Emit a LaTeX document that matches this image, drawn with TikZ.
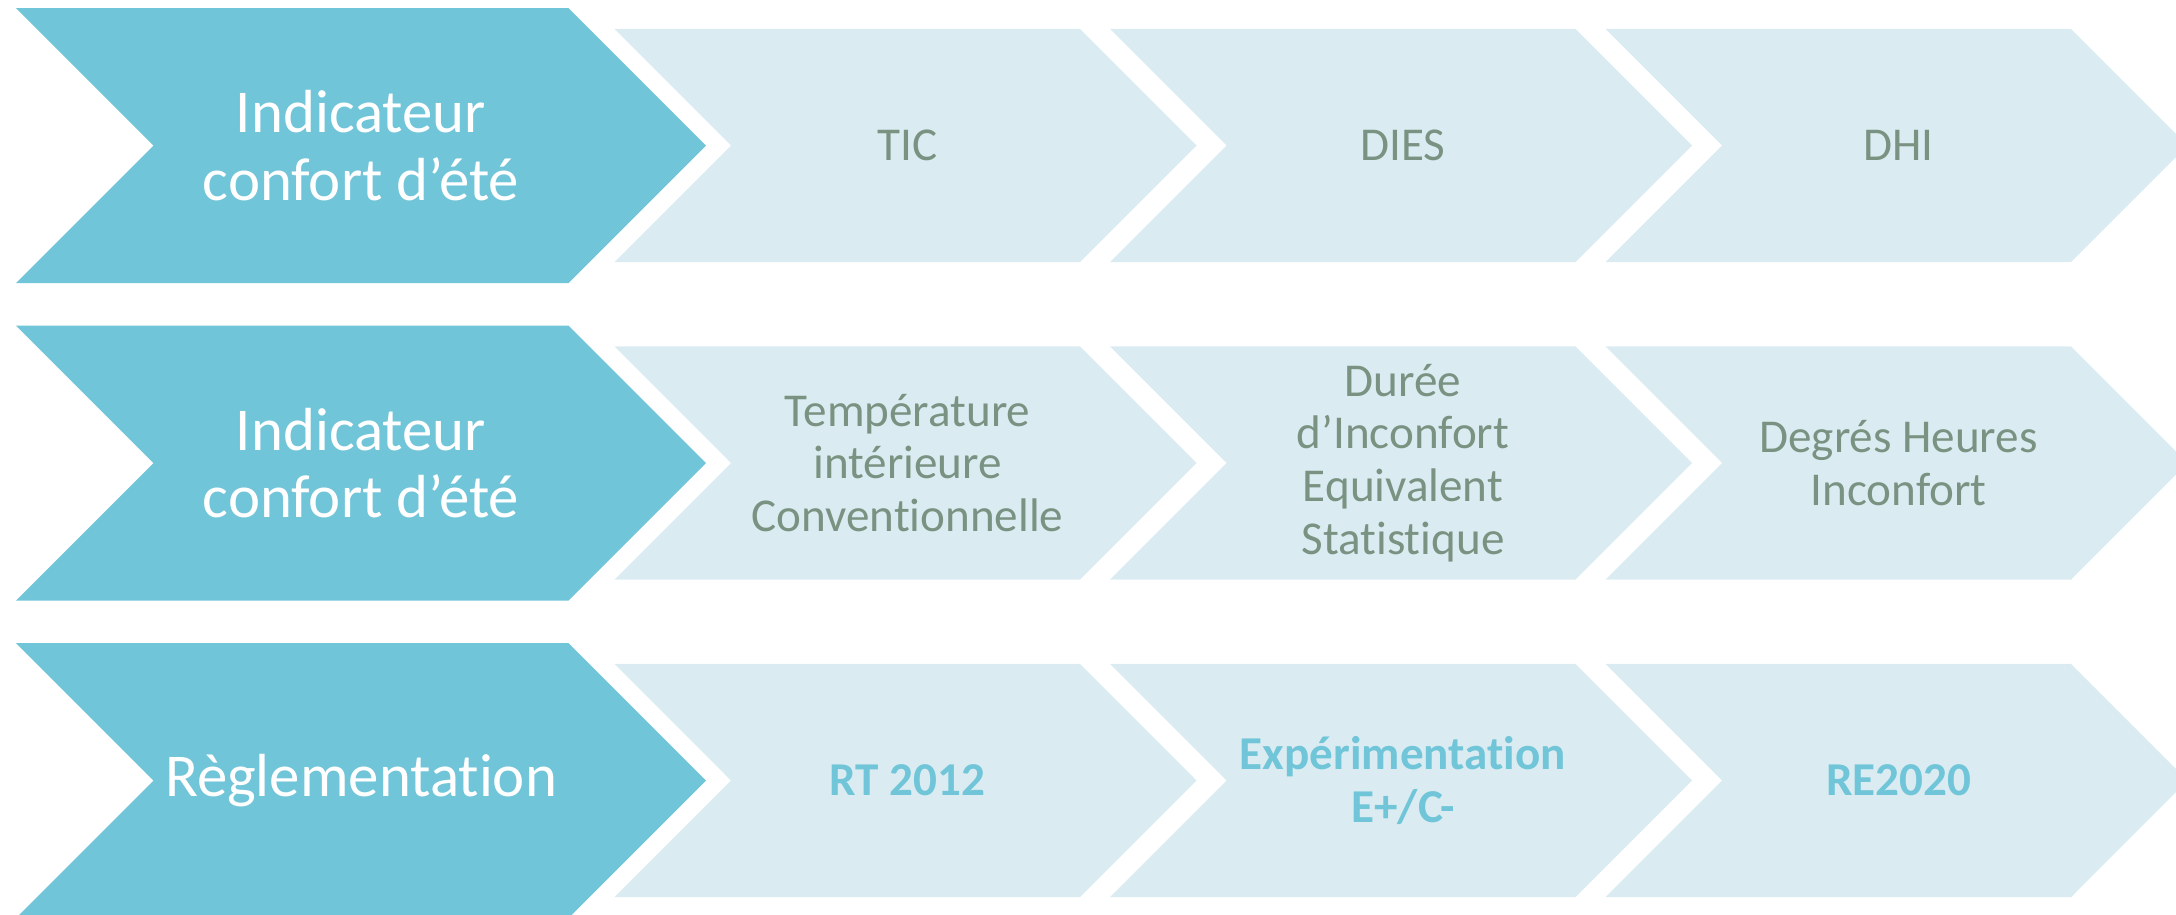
\documentclass[tikz,border=0pt]{standalone}
\usepackage{fontspec}
\setmainfont{Carlito}[Ligatures=NoCommon]
\usepackage{xcolor}
\definecolor{tealhead}{RGB}{113,197,216}
\definecolor{palecell}{RGB}{218,236,241}
\definecolor{sagetext}{RGB}{122,146,130}

\tikzset{
  headarrow/.style={fill=tealhead},
  cellarrow/.style={fill=palecell},
  headtext/.style={align=center, text=white, font=\fontsize{17.3}{19.2}\selectfont},
  celltext/.style={align=center, text=sagetext, font=\fontsize{13.4}{15}\selectfont},
  normtext/.style={align=center, text=tealhead, font=\fontsize{13.4}{15}\selectfont\bfseries},
}

\begin{document}
\begin{tikzpicture}[x=0.01cm, y=-0.01cm]
    \useasboundingbox (0,0) rectangle (2176,914);
    \clip (0,0) rectangle (2176,914);

    % dark chevrons, one per row
    \fill[headarrow] (16,8) -- ++(552.5,0) -- ++(137.5,137.5) -- ++(-137.5,137.5) -- ++(-552.5,0) -- ++(137.5,-137.5) -- cycle;
    \fill[headarrow] (16,325.5) -- ++(552.5,0) -- ++(137.5,137.5) -- ++(-137.5,137.5) -- ++(-552.5,0) -- ++(137.5,-137.5) -- cycle;
    \fill[headarrow] (16,643) -- ++(552.5,0) -- ++(137.5,137.5) -- ++(-137.5,137.5) -- ++(-552.5,0) -- ++(137.5,-137.5) -- cycle;

    % pale chevrons, row 1
    \fill[cellarrow] (614.5,28.8) -- ++(465.5,0) -- ++(116.5,116.7) -- ++(-116.5,116.7) -- ++(-465.5,0) -- ++(116.5,-116.7) -- cycle;
    \fill[cellarrow] (1110,28.8) -- ++(465.5,0) -- ++(116.5,116.7) -- ++(-116.5,116.7) -- ++(-465.5,0) -- ++(116.5,-116.7) -- cycle;
    \fill[cellarrow] (1605.5,28.8) -- ++(465.5,0) -- ++(116.5,116.7) -- ++(-116.5,116.7) -- ++(-465.5,0) -- ++(116.5,-116.7) -- cycle;
    % row 2
    \fill[cellarrow] (614.5,346.3) -- ++(465.5,0) -- ++(116.5,116.7) -- ++(-116.5,116.7) -- ++(-465.5,0) -- ++(116.5,-116.7) -- cycle;
    \fill[cellarrow] (1110,346.3) -- ++(465.5,0) -- ++(116.5,116.7) -- ++(-116.5,116.7) -- ++(-465.5,0) -- ++(116.5,-116.7) -- cycle;
    \fill[cellarrow] (1605.5,346.3) -- ++(465.5,0) -- ++(116.5,116.7) -- ++(-116.5,116.7) -- ++(-465.5,0) -- ++(116.5,-116.7) -- cycle;
    % row 3
    \fill[cellarrow] (614.5,663.8) -- ++(465.5,0) -- ++(116.5,116.7) -- ++(-116.5,116.7) -- ++(-465.5,0) -- ++(116.5,-116.7) -- cycle;
    \fill[cellarrow] (1110,663.8) -- ++(465.5,0) -- ++(116.5,116.7) -- ++(-116.5,116.7) -- ++(-465.5,0) -- ++(116.5,-116.7) -- cycle;
    \fill[cellarrow] (1605.5,663.8) -- ++(465.5,0) -- ++(116.5,116.7) -- ++(-116.5,116.7) -- ++(-465.5,0) -- ++(116.5,-116.7) -- cycle;

    % labels
    \node[headtext] (head1) at (361,145.5) {Indicateur\\confort d’été};
    \node[headtext] (head2) at (361,463) {Indicateur\\confort d’été};
    \node[headtext] (head3) at (361,780.5) {Règlementation};

    \node[celltext] (tic) at (907.5,145.5) {TIC};
    \node[celltext] (dies) at (1403,145.5) {DIES};
    \node[celltext] (dhi) at (1898.5,145.5) {DHI};

    \node[celltext] (ticlong) at (907.5,463) {Température\\intérieure\\Conventionnelle};
    \node[celltext] (dieslong) at (1403,463) {Durée\\d’Inconfort\\Equivalent\\Statistique};
    \node[celltext] (dhilong) at (1898.5,463) {Degrés Heures\\Inconfort};

    \node[normtext] (rt) at (907.5,780.5) {RT 2012};
    \node[normtext] (exp) at (1403,780.5) {Expérimentation\\E+/C-};
    \node[normtext] (re) at (1898.5,780.5) {RE2020};
\end{tikzpicture}
\end{document}
